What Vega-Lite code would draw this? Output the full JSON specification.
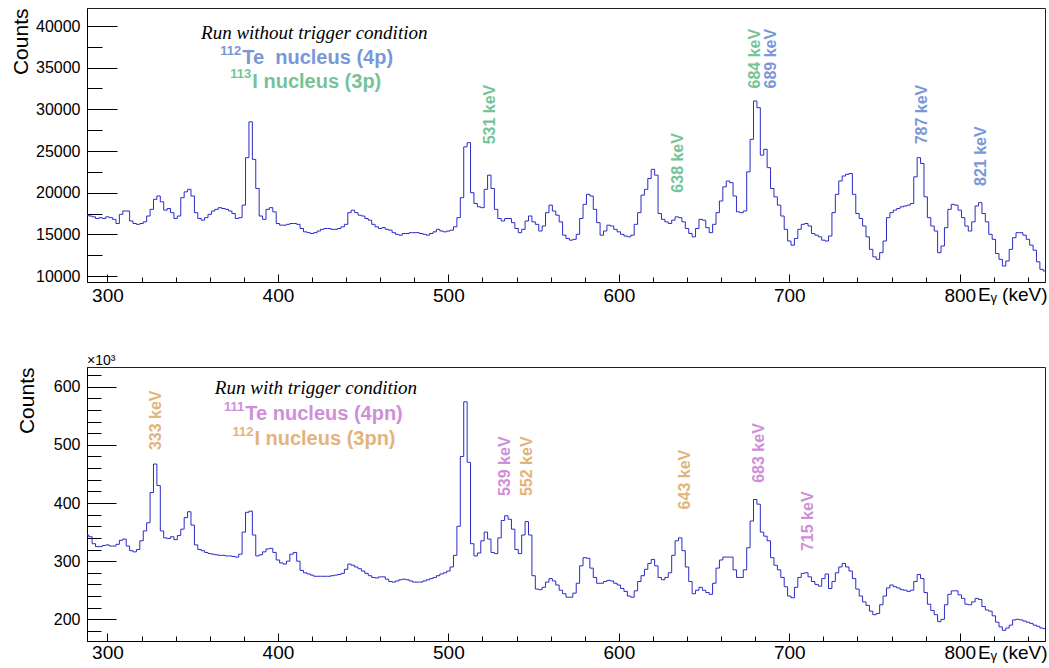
{
"$schema": "https://vega.github.io/schema/vega-lite/v6.json",
"padding": {"left": 9, "top": 7, "right": 2, "bottom": 2},
"background": "white",
"config": {
 "view": {"stroke": "#222", "strokeWidth": 1},
 "font": "Liberation Sans",
 "axis": {"labelFont": "Liberation Sans", "titleFont": "Liberation Sans", "labelColor": "#000", "titleColor": "#000", "tickColor": "#000", "domainColor": "#000", "grid": false, "titleFontWeight": "normal", "labelFlush": false, "labelOverlap": false}
},
"datasets": {
 "top": [
{"e":288,"c":17300},{"e":290,"c":17200},{"e":292,"c":17100},{"e":294,"c":16900},{"e":296,"c":17000},{"e":298,"c":16900},{"e":300,"c":17100},{"e":302,"c":17000},{"e":304,"c":16800},{"e":306,"c":16300},{"e":308,"c":17400},{"e":310,"c":17800},{"e":312,"c":17800},{"e":314,"c":16600},{"e":316,"c":16300},{"e":318,"c":16200},{"e":320,"c":16300},{"e":322,"c":16500},{"e":324,"c":17200},{"e":326,"c":18000},{"e":328,"c":19200},{"e":330,"c":19600},{"e":332,"c":18900},{"e":334,"c":17900},{"e":336,"c":18100},{"e":338,"c":17600},{"e":340,"c":16900},{"e":342,"c":17200},{"e":344,"c":19400},{"e":346,"c":20100},{"e":348,"c":20400},{"e":350,"c":19600},{"e":352,"c":17600},{"e":354,"c":16900},{"e":356,"c":16700},{"e":358,"c":17000},{"e":360,"c":17400},{"e":362,"c":17800},{"e":364,"c":18000},{"e":366,"c":18200},{"e":368,"c":18100},{"e":370,"c":18000},{"e":372,"c":17800},{"e":374,"c":17500},{"e":376,"c":16900},{"e":378,"c":17000},{"e":380,"c":18500},{"e":382,"c":24200},{"e":384,"c":28500},{"e":386,"c":24000},{"e":388,"c":20500},{"e":390,"c":17200},{"e":392,"c":16800},{"e":394,"c":18000},{"e":396,"c":18200},{"e":398,"c":17700},{"e":400,"c":16300},{"e":402,"c":16100},{"e":404,"c":16100},{"e":406,"c":16200},{"e":408,"c":16300},{"e":410,"c":16300},{"e":412,"c":16200},{"e":414,"c":15700},{"e":416,"c":15300},{"e":418,"c":15200},{"e":420,"c":15100},{"e":422,"c":15200},{"e":424,"c":15400},{"e":426,"c":15600},{"e":428,"c":15700},{"e":430,"c":15700},{"e":432,"c":15600},{"e":434,"c":15600},{"e":436,"c":15700},{"e":438,"c":15900},{"e":440,"c":16200},{"e":442,"c":17600},{"e":444,"c":17900},{"e":446,"c":17600},{"e":448,"c":17300},{"e":450,"c":17200},{"e":452,"c":16900},{"e":454,"c":16700},{"e":456,"c":16200},{"e":458,"c":15900},{"e":460,"c":15700},{"e":462,"c":15800},{"e":464,"c":15600},{"e":466,"c":15500},{"e":468,"c":15200},{"e":470,"c":15000},{"e":472,"c":14900},{"e":474,"c":15100},{"e":476,"c":15100},{"e":478,"c":15200},{"e":480,"c":15200},{"e":482,"c":15200},{"e":484,"c":15100},{"e":486,"c":15000},{"e":488,"c":14900},{"e":490,"c":15100},{"e":492,"c":15300},{"e":494,"c":15600},{"e":496,"c":15400},{"e":498,"c":15300},{"e":500,"c":15400},{"e":502,"c":15500},{"e":504,"c":15900},{"e":506,"c":17000},{"e":508,"c":19400},{"e":510,"c":25500},{"e":512,"c":26000},{"e":514,"c":20000},{"e":516,"c":18700},{"e":518,"c":18300},{"e":520,"c":18200},{"e":522,"c":20400},{"e":524,"c":22100},{"e":526,"c":20500},{"e":528,"c":18000},{"e":530,"c":16900},{"e":532,"c":16600},{"e":534,"c":16900},{"e":536,"c":16900},{"e":538,"c":16400},{"e":540,"c":15700},{"e":542,"c":15200},{"e":544,"c":15600},{"e":546,"c":16600},{"e":548,"c":17200},{"e":550,"c":16500},{"e":552,"c":16200},{"e":554,"c":15400},{"e":556,"c":16000},{"e":558,"c":17600},{"e":560,"c":18500},{"e":562,"c":17800},{"e":564,"c":17300},{"e":566,"c":16500},{"e":568,"c":14900},{"e":570,"c":14500},{"e":572,"c":14300},{"e":574,"c":14400},{"e":576,"c":15000},{"e":578,"c":16900},{"e":580,"c":18600},{"e":582,"c":19800},{"e":584,"c":19600},{"e":586,"c":18000},{"e":588,"c":16400},{"e":590,"c":14900},{"e":592,"c":15400},{"e":594,"c":16100},{"e":596,"c":16000},{"e":598,"c":15600},{"e":600,"c":15300},{"e":602,"c":15000},{"e":604,"c":14800},{"e":606,"c":14700},{"e":608,"c":14900},{"e":610,"c":16200},{"e":612,"c":17600},{"e":614,"c":19700},{"e":616,"c":20400},{"e":618,"c":21700},{"e":620,"c":22800},{"e":622,"c":22100},{"e":624,"c":17500},{"e":626,"c":16800},{"e":628,"c":16500},{"e":630,"c":16300},{"e":632,"c":16700},{"e":634,"c":17100},{"e":636,"c":17000},{"e":638,"c":16500},{"e":640,"c":15700},{"e":642,"c":15100},{"e":644,"c":14700},{"e":646,"c":15700},{"e":648,"c":16800},{"e":650,"c":16700},{"e":652,"c":15800},{"e":654,"c":15200},{"e":656,"c":16200},{"e":658,"c":17600},{"e":660,"c":19000},{"e":662,"c":20700},{"e":664,"c":21400},{"e":666,"c":21200},{"e":668,"c":19600},{"e":670,"c":17700},{"e":672,"c":17600},{"e":674,"c":17800},{"e":676,"c":22500},{"e":678,"c":26400},{"e":680,"c":31000},{"e":682,"c":30200},{"e":684,"c":24500},{"e":686,"c":25200},{"e":688,"c":23000},{"e":690,"c":20500},{"e":692,"c":19500},{"e":694,"c":18500},{"e":696,"c":17200},{"e":698,"c":15600},{"e":700,"c":14200},{"e":702,"c":13700},{"e":704,"c":14500},{"e":706,"c":15600},{"e":708,"c":16200},{"e":710,"c":16300},{"e":712,"c":16000},{"e":714,"c":15100},{"e":716,"c":14900},{"e":718,"c":14700},{"e":720,"c":14300},{"e":722,"c":14200},{"e":724,"c":14800},{"e":726,"c":17600},{"e":728,"c":19800},{"e":730,"c":21400},{"e":732,"c":22000},{"e":734,"c":22200},{"e":736,"c":22300},{"e":738,"c":19800},{"e":740,"c":17500},{"e":742,"c":16900},{"e":744,"c":16000},{"e":746,"c":14700},{"e":748,"c":13200},{"e":750,"c":12300},{"e":752,"c":12000},{"e":754,"c":12800},{"e":756,"c":14200},{"e":758,"c":17000},{"e":760,"c":17600},{"e":762,"c":17900},{"e":764,"c":18100},{"e":766,"c":18300},{"e":768,"c":18400},{"e":770,"c":18500},{"e":772,"c":18700},{"e":774,"c":21900},{"e":776,"c":24200},{"e":778,"c":23500},{"e":780,"c":19500},{"e":782,"c":17000},{"e":784,"c":16000},{"e":786,"c":15400},{"e":788,"c":12800},{"e":790,"c":13600},{"e":792,"c":15800},{"e":794,"c":18000},{"e":796,"c":18600},{"e":798,"c":18500},{"e":800,"c":17900},{"e":802,"c":17000},{"e":804,"c":16000},{"e":806,"c":15400},{"e":808,"c":16500},{"e":810,"c":18400},{"e":812,"c":18800},{"e":814,"c":17500},{"e":816,"c":16500},{"e":818,"c":15000},{"e":820,"c":14400},{"e":822,"c":12700},{"e":824,"c":12000},{"e":826,"c":11200},{"e":828,"c":11800},{"e":830,"c":13200},{"e":832,"c":14600},{"e":834,"c":15200},{"e":836,"c":15200},{"e":838,"c":14900},{"e":840,"c":14400},{"e":842,"c":13700},{"e":844,"c":13100},{"e":846,"c":11700},{"e":848,"c":10800},{"e":850,"c":10600}
 ],
 "bot": [
{"e":288,"c":345},{"e":290,"c":342},{"e":292,"c":330},{"e":294,"c":325},{"e":296,"c":325},{"e":298,"c":327},{"e":300,"c":328},{"e":302,"c":326},{"e":304,"c":326},{"e":306,"c":329},{"e":308,"c":336},{"e":310,"c":338},{"e":312,"c":326},{"e":314,"c":318},{"e":316,"c":316},{"e":318,"c":320},{"e":320,"c":335},{"e":322,"c":352},{"e":324,"c":366},{"e":326,"c":418},{"e":328,"c":467},{"e":330,"c":430},{"e":332,"c":352},{"e":334,"c":340},{"e":336,"c":339},{"e":338,"c":342},{"e":340,"c":337},{"e":342,"c":344},{"e":344,"c":355},{"e":346,"c":375},{"e":348,"c":385},{"e":350,"c":362},{"e":352,"c":328},{"e":354,"c":320},{"e":356,"c":318},{"e":358,"c":315},{"e":360,"c":313},{"e":362,"c":312},{"e":364,"c":311},{"e":366,"c":310},{"e":368,"c":310},{"e":370,"c":309},{"e":372,"c":309},{"e":374,"c":308},{"e":376,"c":307},{"e":378,"c":312},{"e":380,"c":350},{"e":382,"c":384},{"e":384,"c":386},{"e":386,"c":345},{"e":388,"c":309},{"e":390,"c":311},{"e":392,"c":316},{"e":394,"c":321},{"e":396,"c":322},{"e":398,"c":315},{"e":400,"c":302},{"e":402,"c":297},{"e":404,"c":295},{"e":406,"c":300},{"e":408,"c":312},{"e":410,"c":315},{"e":412,"c":300},{"e":414,"c":284},{"e":416,"c":280},{"e":418,"c":278},{"e":420,"c":276},{"e":422,"c":274},{"e":424,"c":274},{"e":426,"c":274},{"e":428,"c":274},{"e":430,"c":274},{"e":432,"c":275},{"e":434,"c":276},{"e":436,"c":277},{"e":438,"c":279},{"e":440,"c":286},{"e":442,"c":295},{"e":444,"c":293},{"e":446,"c":290},{"e":448,"c":287},{"e":450,"c":283},{"e":452,"c":279},{"e":454,"c":275},{"e":456,"c":272},{"e":458,"c":271},{"e":460,"c":273},{"e":462,"c":273},{"e":464,"c":269},{"e":466,"c":265},{"e":468,"c":264},{"e":470,"c":266},{"e":472,"c":268},{"e":474,"c":269},{"e":476,"c":268},{"e":478,"c":266},{"e":480,"c":264},{"e":482,"c":264},{"e":484,"c":264},{"e":486,"c":266},{"e":488,"c":268},{"e":490,"c":270},{"e":492,"c":272},{"e":494,"c":275},{"e":496,"c":278},{"e":498,"c":280},{"e":500,"c":283},{"e":502,"c":290},{"e":504,"c":310},{"e":506,"c":360},{"e":508,"c":480},{"e":510,"c":574},{"e":512,"c":470},{"e":514,"c":330},{"e":516,"c":309},{"e":518,"c":314},{"e":520,"c":335},{"e":522,"c":350},{"e":524,"c":338},{"e":526,"c":315},{"e":528,"c":313},{"e":530,"c":340},{"e":532,"c":370},{"e":534,"c":378},{"e":536,"c":372},{"e":538,"c":355},{"e":540,"c":320},{"e":542,"c":313},{"e":544,"c":345},{"e":546,"c":368},{"e":548,"c":345},{"e":550,"c":275},{"e":552,"c":252},{"e":554,"c":251},{"e":556,"c":255},{"e":558,"c":264},{"e":560,"c":270},{"e":562,"c":266},{"e":564,"c":259},{"e":566,"c":250},{"e":568,"c":244},{"e":570,"c":238},{"e":572,"c":238},{"e":574,"c":245},{"e":576,"c":262},{"e":578,"c":292},{"e":580,"c":306},{"e":582,"c":305},{"e":584,"c":288},{"e":586,"c":272},{"e":588,"c":262},{"e":590,"c":262},{"e":592,"c":265},{"e":594,"c":267},{"e":596,"c":266},{"e":598,"c":262},{"e":600,"c":259},{"e":602,"c":253},{"e":604,"c":248},{"e":606,"c":240},{"e":608,"c":238},{"e":610,"c":249},{"e":612,"c":265},{"e":614,"c":275},{"e":616,"c":286},{"e":618,"c":296},{"e":620,"c":303},{"e":622,"c":292},{"e":624,"c":272},{"e":626,"c":268},{"e":628,"c":272},{"e":630,"c":280},{"e":632,"c":310},{"e":634,"c":335},{"e":636,"c":340},{"e":638,"c":318},{"e":640,"c":290},{"e":642,"c":265},{"e":644,"c":244},{"e":646,"c":250},{"e":648,"c":255},{"e":650,"c":250},{"e":652,"c":246},{"e":654,"c":243},{"e":656,"c":262},{"e":658,"c":288},{"e":660,"c":302},{"e":662,"c":307},{"e":664,"c":307},{"e":666,"c":307},{"e":668,"c":285},{"e":670,"c":272},{"e":672,"c":272},{"e":674,"c":285},{"e":676,"c":323},{"e":678,"c":369},{"e":680,"c":406},{"e":682,"c":398},{"e":684,"c":350},{"e":686,"c":343},{"e":688,"c":335},{"e":690,"c":306},{"e":692,"c":293},{"e":694,"c":285},{"e":696,"c":272},{"e":698,"c":256},{"e":700,"c":240},{"e":702,"c":237},{"e":704,"c":255},{"e":706,"c":272},{"e":708,"c":279},{"e":710,"c":280},{"e":712,"c":273},{"e":714,"c":265},{"e":716,"c":260},{"e":718,"c":257},{"e":720,"c":270},{"e":722,"c":278},{"e":724,"c":253},{"e":726,"c":265},{"e":728,"c":280},{"e":730,"c":290},{"e":732,"c":296},{"e":734,"c":290},{"e":736,"c":283},{"e":738,"c":270},{"e":740,"c":252},{"e":742,"c":240},{"e":744,"c":230},{"e":746,"c":224},{"e":748,"c":214},{"e":750,"c":208},{"e":752,"c":210},{"e":754,"c":225},{"e":756,"c":240},{"e":758,"c":254},{"e":760,"c":259},{"e":762,"c":256},{"e":764,"c":254},{"e":766,"c":251},{"e":768,"c":250},{"e":770,"c":248},{"e":772,"c":250},{"e":774,"c":265},{"e":776,"c":277},{"e":778,"c":270},{"e":780,"c":246},{"e":782,"c":226},{"e":784,"c":215},{"e":786,"c":208},{"e":788,"c":196},{"e":790,"c":200},{"e":792,"c":225},{"e":794,"c":243},{"e":796,"c":249},{"e":798,"c":249},{"e":800,"c":242},{"e":802,"c":236},{"e":804,"c":226},{"e":806,"c":225},{"e":808,"c":230},{"e":810,"c":236},{"e":812,"c":234},{"e":814,"c":222},{"e":816,"c":216},{"e":818,"c":214},{"e":820,"c":206},{"e":822,"c":195},{"e":824,"c":187},{"e":826,"c":181},{"e":828,"c":185},{"e":830,"c":190},{"e":832,"c":199},{"e":834,"c":200},{"e":836,"c":199},{"e":838,"c":197},{"e":840,"c":195},{"e":842,"c":193},{"e":844,"c":190},{"e":846,"c":188},{"e":848,"c":185},{"e":850,"c":184}
 ]
},
"spacing": 85,
"bounds": "flush",
"resolve": {"scale": {"x": "independent", "y": "independent", "color": "independent"}},
"vconcat": [
 {
  "width": 958, "height": 274,
  "resolve": {"axis": {"x": "independent", "y": "independent"}},
  "layer": [
   {
    "data": {"name": "top"},
    "mark": {"type": "line", "interpolate": "step", "color": "#2b2bc8", "strokeWidth": 1, "clip": true},
    "encoding": {
     "x": {"field": "e", "type": "quantitative", "scale": {"domain": [288, 850], "nice": false, "zero": false},
      "axis": {"orient": "bottom", "values": [300, 400, 500, 600, 700, 800], "tickSize": -8, "labelFontSize": 19, "labelPadding": 12, "title": "Eᵧ (keV)", "titleFontSize": 19, "titleX": 960, "titleY": 18, "titleAlign": "right", "titleBaseline": "alphabetic"}},
     "y": {"field": "c", "type": "quantitative", "scale": {"domain": [9280, 42160], "nice": false, "zero": false},
      "axis": {"orient": "left", "values": [10000, 15000, 20000, 25000, 30000, 35000, 40000], "format": "d", "tickSize": -30, "labelFontSize": 16, "labelPadding": 37, "title": "Counts", "titleFontSize": 21, "titleAngle": 270, "titleX": -66, "titleY": 0, "titleAlign": "right", "titleBaseline": "middle"}}
    }
   },
   {
    "data": {"values": [{"x": 421.3, "y": 39160, "t": "Run without trigger condition"}]},
    "mark": {"type": "text", "font": "Liberation Serif", "fontStyle": "italic", "fontSize": 19, "align": "center", "baseline": "middle", "color": "#000"},
    "encoding": {
     "x": {"field": "x", "type": "quantitative", "axis": {"orient": "bottom", "values": [320, 340, 360, 380, 420, 440, 460, 480, 520, 540, 560, 580, 620, 640, 660, 680, 720, 740, 760, 780, 820, 840], "tickSize": -5, "labels": false, "domain": false, "title": null}},
     "y": {"field": "y", "type": "quantitative", "axis": {"orient": "left", "values": [12500, 17500, 22500, 27500, 32500, 37500], "tickSize": -15, "labels": false, "domain": false, "title": null}},
     "text": {"field": "t"}
    }
   },
   {
    "data": {"values": [{"x": 379.1, "y": 36160, "t": "Te\u00a0 nucleus (4p)", "n": "Te112"}, {"x": 385, "y": 33280, "t": "I nucleus (3p)", "n": "I113"}]},
    "mark": {"type": "text", "font": "Liberation Sans", "fontWeight": "bold", "fontSize": 20, "align": "left", "baseline": "middle"},
    "encoding": {
     "x": {"field": "x", "type": "quantitative", "axis": null},
     "y": {"field": "y", "type": "quantitative", "axis": null},
     "text": {"field": "t"},
     "color": {"field": "n", "type": "nominal", "scale": {"domain": ["Te112", "I113"], "range": ["#7b97d8", "#76c496"]}, "legend": null}
    }
   },
   {
    "data": {"values": [{"x": 378.5, "y": 37000, "t": "112", "n": "Te112"}, {"x": 384.4, "y": 34240, "t": "113", "n": "I113"}]},
    "mark": {"type": "text", "font": "Liberation Sans", "fontWeight": "bold", "fontSize": 13, "align": "right", "baseline": "middle"},
    "encoding": {
     "x": {"field": "x", "type": "quantitative", "axis": null},
     "y": {"field": "y", "type": "quantitative", "axis": null},
     "text": {"field": "t"},
     "color": {"field": "n", "type": "nominal", "legend": null}
    }
   },
   {
    "data": {"values": [
     {"x": 524.7, "y": 25800, "t": "531 keV", "n": "I113"},
     {"x": 634.5, "y": 20000, "t": "638 keV", "n": "I113"},
     {"x": 680, "y": 32500, "t": "684 keV", "n": "I113"},
     {"x": 689.5, "y": 32500, "t": "689 keV", "n": "Te112"},
     {"x": 777.7, "y": 25800, "t": "787 keV", "n": "Te112"},
     {"x": 812.3, "y": 20800, "t": "821 keV", "n": "Te112"}
    ]},
    "mark": {"type": "text", "font": "Liberation Sans", "fontWeight": "bold", "fontSize": 16, "angle": 270, "align": "left", "baseline": "middle"},
    "encoding": {
     "x": {"field": "x", "type": "quantitative", "axis": null},
     "y": {"field": "y", "type": "quantitative", "axis": null},
     "text": {"field": "t"},
     "color": {"field": "n", "type": "nominal", "legend": null}
    }
   }
  ]
 },
 {
  "width": 958, "height": 274,
  "resolve": {"axis": {"x": "independent", "y": "independent"}},
  "layer": [
   {
    "data": {"name": "bot"},
    "mark": {"type": "line", "interpolate": "step", "color": "#2b2bc8", "strokeWidth": 1, "clip": true},
    "encoding": {
     "x": {"field": "e", "type": "quantitative", "scale": {"domain": [288, 850], "nice": false, "zero": false},
      "axis": {"orient": "bottom", "values": [300, 400, 500, 600, 700, 800], "tickSize": -8, "labelFontSize": 19, "labelPadding": 10, "title": "Eᵧ (keV)", "titleFontSize": 19, "titleX": 960, "titleY": 17, "titleAlign": "right", "titleBaseline": "alphabetic"}},
     "y": {"field": "c", "type": "quantitative", "scale": {"domain": [162.7, 633.9], "nice": false, "zero": false},
      "axis": {"orient": "left", "values": [200, 300, 400, 500, 600], "format": "d", "tickSize": -29, "labelFontSize": 16, "labelPadding": 36, "title": "Counts", "titleFontSize": 21, "titleAngle": 270, "titleX": -60, "titleY": 0, "titleAlign": "right", "titleBaseline": "middle"}}
    }
   },
   {
    "data": {"values": [{"x": 422.3, "y": 598, "t": "Run with trigger condition"}]},
    "mark": {"type": "text", "font": "Liberation Serif", "fontStyle": "italic", "fontSize": 19, "align": "center", "baseline": "middle", "color": "#000"},
    "encoding": {
     "x": {"field": "x", "type": "quantitative", "axis": {"orient": "bottom", "values": [320, 340, 360, 380, 420, 440, 460, 480, 520, 540, 560, 580, 620, 640, 660, 680, 720, 740, 760, 780, 820, 840], "tickSize": -5, "labels": false, "domain": false, "title": null}},
     "y": {"field": "y", "type": "quantitative", "axis": {"orient": "left", "values": [180, 220, 240, 260, 280, 320, 340, 360, 380, 420, 440, 460, 480, 520, 540, 560, 580, 620], "tickSize": -14, "labels": false, "domain": false, "title": null}},
     "text": {"field": "t"}
    }
   },
   {
    "data": {"values": [{"x": 288, "y": 644, "t": "×10³"}]},
    "mark": {"type": "text", "font": "Liberation Sans", "fontSize": 14, "align": "left", "baseline": "middle", "color": "#000"},
    "encoding": {
     "x": {"field": "x", "type": "quantitative", "axis": null},
     "y": {"field": "y", "type": "quantitative", "axis": null},
     "text": {"field": "t"}
    }
   },
   {
    "data": {"values": [{"x": 380.9, "y": 553, "t": "Te nucleus (4pn)", "n": "Te111"}, {"x": 386.2, "y": 510, "t": "I nucleus (3pn)", "n": "I112"}]},
    "mark": {"type": "text", "font": "Liberation Sans", "fontWeight": "bold", "fontSize": 20, "align": "left", "baseline": "middle"},
    "encoding": {
     "x": {"field": "x", "type": "quantitative", "axis": null},
     "y": {"field": "y", "type": "quantitative", "axis": null},
     "text": {"field": "t"},
     "color": {"field": "n", "type": "nominal", "scale": {"domain": ["Te111", "I112"], "range": ["#cf8fd8", "#e2b47c"]}, "legend": null}
    }
   },
   {
    "data": {"values": [{"x": 380.3, "y": 565.5, "t": "111", "n": "Te111"}, {"x": 385.6, "y": 522.5, "t": "112", "n": "I112"}]},
    "mark": {"type": "text", "font": "Liberation Sans", "fontWeight": "bold", "fontSize": 13, "align": "right", "baseline": "middle"},
    "encoding": {
     "x": {"field": "x", "type": "quantitative", "axis": null},
     "y": {"field": "y", "type": "quantitative", "axis": null},
     "text": {"field": "t"},
     "color": {"field": "n", "type": "nominal", "legend": null}
    }
   },
   {
    "data": {"values": [
     {"x": 328.7, "y": 491, "t": "333 keV", "n": "I112"},
     {"x": 533.4, "y": 412, "t": "539 keV", "n": "Te111"},
     {"x": 546.2, "y": 412, "t": "552 keV", "n": "I112"},
     {"x": 638.8, "y": 389, "t": "643 keV", "n": "I112"},
     {"x": 682.4, "y": 434.8, "t": "683 keV", "n": "Te111"},
     {"x": 711, "y": 317.4, "t": "715 keV", "n": "Te111"}
    ]},
    "mark": {"type": "text", "font": "Liberation Sans", "fontWeight": "bold", "fontSize": 16, "angle": 270, "align": "left", "baseline": "middle"},
    "encoding": {
     "x": {"field": "x", "type": "quantitative", "axis": null},
     "y": {"field": "y", "type": "quantitative", "axis": null},
     "text": {"field": "t"},
     "color": {"field": "n", "type": "nominal", "legend": null}
    }
   }
  ]
 }
]
}
